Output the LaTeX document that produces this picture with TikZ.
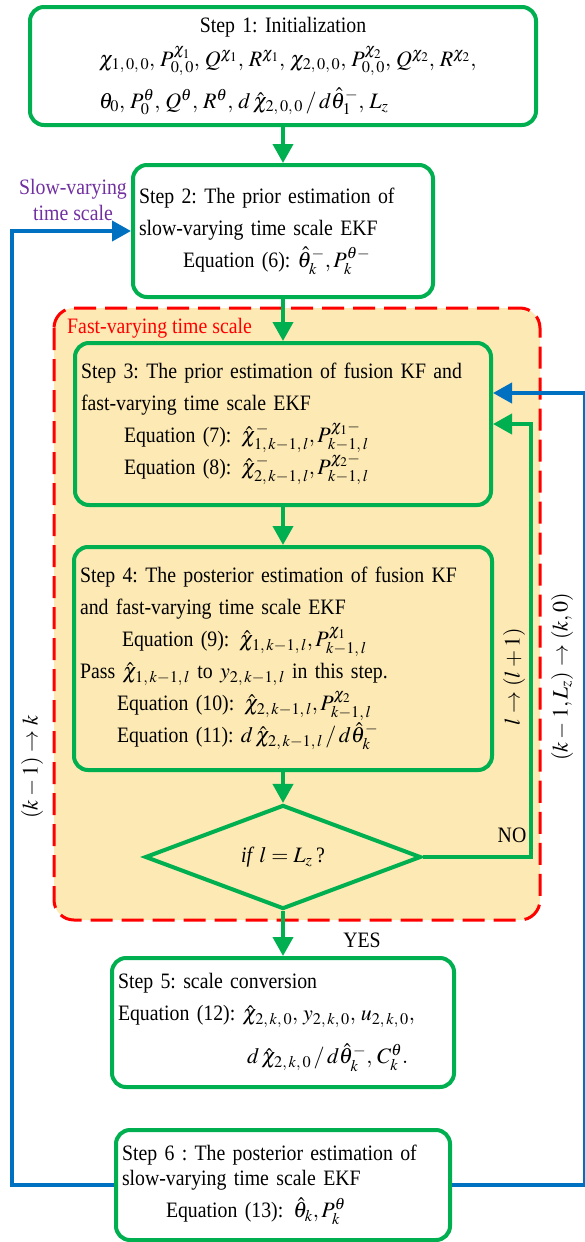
\documentclass[tikz,border=0pt]{standalone}
\usepackage{mathptmx}
\usepackage{fontspec}
\setmainfont[FakeStretch=0.9]{Liberation Serif}
\usetikzlibrary{arrows.meta,shapes.geometric}
\frenchspacing

\begin{document}
\begin{tikzpicture}[x=1pt,y=-1pt,font=\fontsize{22}{32}\selectfont,
  stepbox/.style={draw=cgreen,line width=4pt,rounded corners=14pt,
    inner xsep=6pt,inner ysep=0pt,align=left},
  decide/.style={diamond,draw=cgreen,line width=4pt,minimum width=276pt,
    minimum height=88pt,inner sep=0pt},
  flow/.style={-{Triangle[length=19pt,width=20pt]},draw=cgreen,line width=4pt},
  back/.style={-{Triangle[length=19pt,width=20pt]},draw=cblue,line width=4pt},
  lbl/.style={inner sep=0pt}]
\definecolor{cgreen}{RGB}{0,176,80}\definecolor{cblue}{RGB}{0,112,192}
\definecolor{cred}{RGB}{255,0,0}\definecolor{cfill}{RGB}{252,233,180}
\definecolor{cpurple}{RGB}{112,48,160}
\useasboundingbox (0,0) rectangle (585,1242);

% --- fast-varying region ---
\draw[cred,line width=3pt,dash pattern=on 22pt off 9pt,fill=cfill,rounded corners=20pt]
  (54,308) rectangle (540,920);
\node[lbl,text=cred,anchor=west] (fastlbl) at (67,328) {Fast-varying time scale};

% --- steps ---
\node[stepbox,fill=white,text width=494pt,minimum height=118pt] (s1) at (283,66)
  {\makebox[494pt]{Step 1: Initialization}\\[2pt]
   \hspace*{63pt}$\chi_{1,\,0,\,0},\,P_{0,\,0}^{\chi_1},\,Q^{\chi_1},\,R^{\chi_1},\,\chi_{2,\,0,\,0},\,P_{0,\,0}^{\chi_2},\,Q^{\chi_2},\,R^{\chi_2},$\\[10pt]
   \hspace*{63pt}$\theta_0,\,P_0^{\theta},\,Q^{\theta},\,R^{\theta},\,d\,\hat{\chi}_{2,\,0,\,0}\,/\,d\hat{\theta}_1^-,\,L_z$};
\node[stepbox,fill=white,text width=288pt,minimum height=132pt] (s2) at (283,231)
  {Step 2: The prior estimation of\\slow-varying time scale EKF\\
   \hspace*{44pt}Equation (6): $\hat{\theta}_k^-,P_k^{\theta-}$};
\node[stepbox,text width=404pt,minimum height=162pt] (s3) at (283,424)
  {Step 3: The prior estimation of fusion KF and\\fast-varying time scale EKF\\
   \hspace*{43pt}Equation (7):\hspace{10pt}$\hat{\chi}_{1,\,k-1,\,l}^-,P_{k-1,\,l}^{\chi_1-}$\\
   \hspace*{43pt}Equation (8):\hspace{10pt}$\hat{\chi}_{2,\,k-1,\,l}^-,P_{k-1,\,l}^{\chi_2-}$};
\node[stepbox,text width=406pt,minimum height=223pt] (s4) at (283,658.5)
  {Step 4: The posterior estimation of fusion KF\\and fast-varying time scale EKF\\
   \hspace*{42pt}Equation (9):\hspace{10pt}$\hat{\chi}_{1,\,k-1,\,l},P_{k-1,\,l}^{\chi_1}$\\
   Pass $\hat{\chi}_{1,\,k-1,\,l}$ to $y_{2,\,k-1,\,l}$ in this step.\\
   \hspace*{37pt}Equation (10):\hspace{10pt}$\hat{\chi}_{2,\,k-1,\,l},P_{k-1,\,l}^{\chi_2}$\\
   \hspace*{37pt}Equation (11): $d\,\hat{\chi}_{2,\,k-1,\,l}\,/\,d\hat{\theta}_k^-$};
\node[decide] (dec) at (283,857) {\textit{if} $l=L_z$\,?};
\node[stepbox,fill=white,text width=330pt,minimum height=129pt] (s5) at (283,1022.5)
  {Step 5: scale conversion\\
   Equation (12): $\hat{\chi}_{2,\,k,\,0},\,y_{2,\,k,\,0},\,u_{2,\,k,\,0},$\\[11pt]
   \hspace*{129pt}$d\,\hat{\chi}_{2,\,k,\,0}\,/\,d\hat{\theta}_k^-,\,C_k^{\theta}.$};
\node[stepbox,fill=white,text width=322pt,minimum height=110pt] (s6) at (283,1185)
  {\makebox[322pt][s]{Step 6 : The posterior estimation of}\\[-7pt]
   slow-varying time scale EKF\\
   \hspace*{44pt}Equation (13):\hspace{10pt}$\hat{\theta}_k,P_k^{\theta}$};

% --- forward flow ---
\draw[flow] (s1) -- (s2);
\draw[flow] (s2) -- (s3);
\draw[flow] (s3) -- (s4);
\draw[flow] (s4) -- (dec);
\draw[flow] (dec) -- (s5);
\draw[flow] (dec.east) -- ++(108,0) |- (s3.east);
\node[lbl] (yes) at (362,940) {YES};
\node[lbl] (no) at (512,835) {NO};

% --- outer loops ---
\draw[back] (s6.west) -- ++(-102,0) |- (s2.west);
\draw[back] (s6.east) -- ++(133,0) |- ([yshift=31pt]s3.east);

% --- labels ---
\node[lbl,text=cpurple,align=center,font=\fontsize{22}{26}\selectfont] (slow) at (73,200)
  {Slow-varying\\time scale};
\node[lbl,rotate=90] (kstep) at (32,767) {$(k-1)\rightarrow k$};
\node[lbl,rotate=90] (lstep) at (514,677) {$l\rightarrow(l+1)$};
\node[lbl,rotate=90] (klstep) at (562,677) {$(k-1,L_z)\rightarrow(k,0)$};
\end{tikzpicture}
\end{document}
